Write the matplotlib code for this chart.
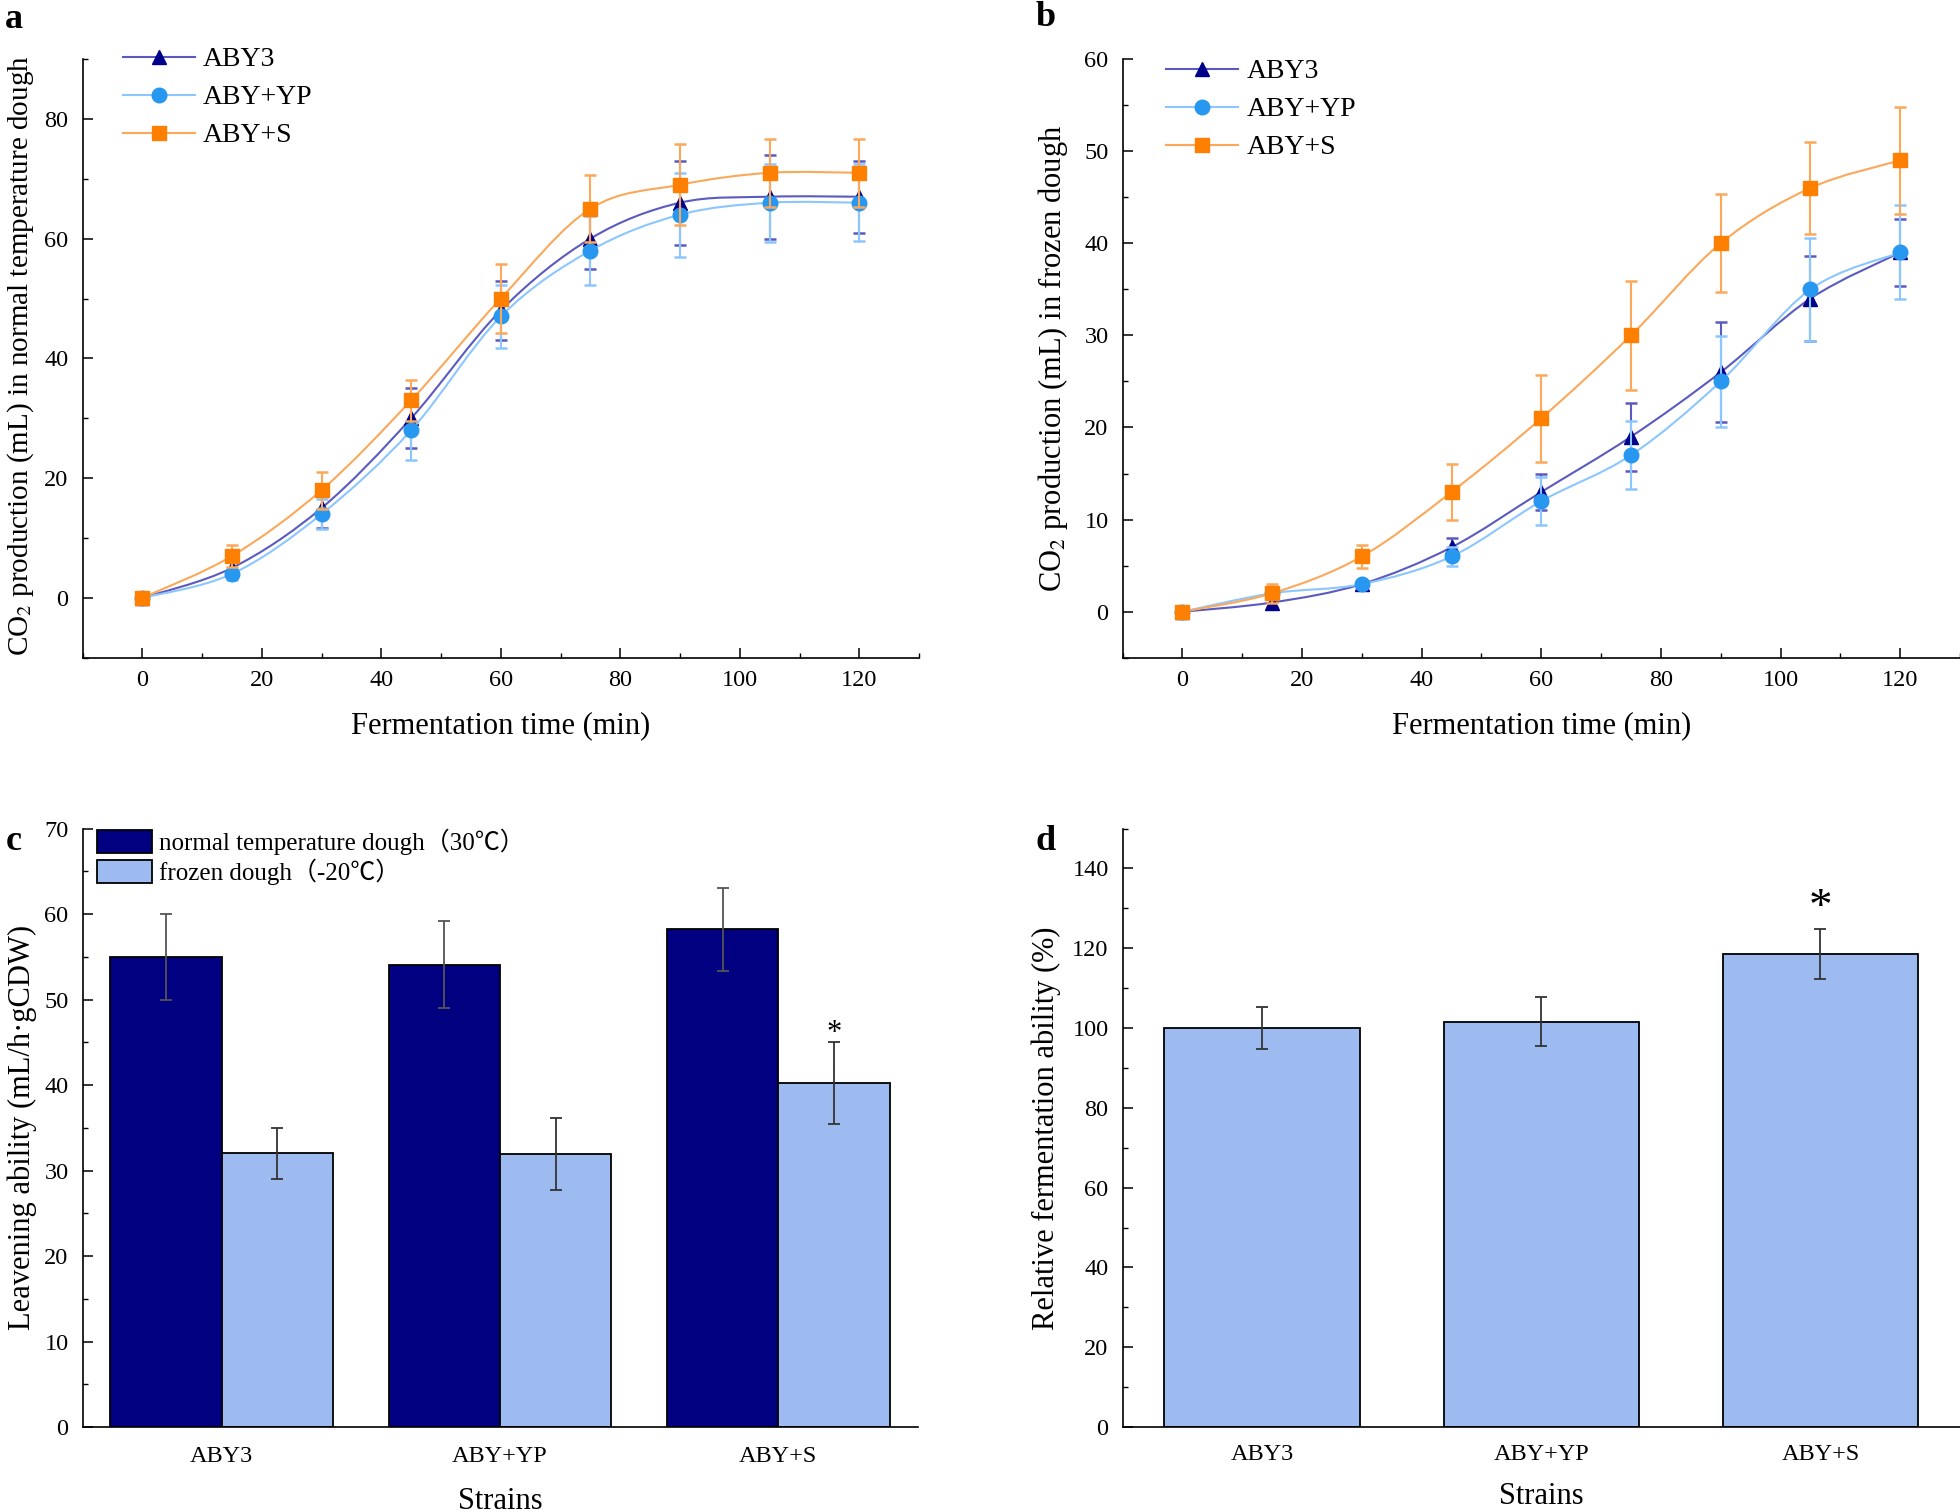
import numpy as np
import matplotlib
matplotlib.use('Agg')
import matplotlib.pyplot as plt
from matplotlib.path import Path
from matplotlib.patches import PathPatch
from matplotlib.lines import Line2D
from matplotlib.ticker import MultipleLocator
from matplotlib.font_manager import FontProperties

plt.rcParams['font.family'] = ['Liberation Serif', 'Noto Sans CJK SC']
plt.rcParams['mathtext.fontset'] = 'stix'

# ---------------- data ----------------
time_min = [0, 15, 30, 45, 60, 75, 90, 105, 120]
series_names = ['ABY3', 'ABY+YP', 'ABY+S']
strains = ['ABY3', 'ABY+YP', 'ABY+S']

a_aby3 = [0, 5, 15, 30, 48, 60, 66, 67, 67]
a_aby3_err = [0.5, 1, 3.4, 5, 5, 5, 7, 7, 6]
a_yp = [0, 4, 14, 28, 47, 58, 64, 66, 66]
a_yp_err = [0.5, 1, 2.5, 5, 5.2, 5.7, 7, 6.5, 6.4]
a_s = [0, 7, 18, 33, 50, 65, 69, 71, 71]
a_s_err = [0.5, 1.9, 3.1, 3.4, 5.8, 5.6, 6.8, 5.7, 5.7]

b_aby3 = [0, 1, 3, 7, 13, 19, 26, 34, 39]
b_aby3_err = [0.5, 0.5, 0.3, 1, 2, 3.7, 5.4, 4.6, 3.6]
b_yp = [0, 2, 3, 6, 12, 17, 25, 35, 39]
b_yp_err = [0.3, 0.5, 0.3, 1, 2.6, 3.7, 4.9, 5.6, 5.1]
b_s = [0, 2, 6, 13, 21, 30, 40, 46, 49]
b_s_err = [0.3, 1, 1.2, 3, 4.7, 5.9, 5.3, 5, 5.8]

c_labels = ['normal temperature dough（30℃）', 'frozen dough（-20℃）']
c_normal = [55, 54.1, 58.2]
c_normal_err = [5, 5.1, 4.8]
c_frozen = [32, 31.9, 40.2]
c_frozen_err = [3, 4.2, 4.8]
c_star_value = 46

d_relative = [100, 101.6, 118.6]
d_relative_err = [5.3, 6.1, 6.3]
d_star_value = 130

# ---------------- styles ----------------
marker_colors = ['#00008B', '#2897F0', '#FF7F00']
line_colors = ['#5A5AC0', '#8CC6FF', '#FBA85A']
markers = ['^', 'o', 's']
dark_bar = '#000080'
light_bar = '#9DBBF1'

TICK = 17.5
LABEL = 22
LEG = 20


def smooth_path(x, y):
    x = np.asarray(x, float)
    y = np.asarray(y, float)
    n = len(x)
    verts = [(x[0], y[0])]
    codes = [Path.MOVETO]
    for i in range(n - 1):
        xp, yp = (x[i - 1], y[i - 1]) if i > 0 else (x[i], y[i])
        xn, yn = (x[i + 2], y[i + 2]) if i + 2 < n else (x[i + 1], y[i + 1])
        c1 = (x[i] + (x[i + 1] - xp) / 6.0, y[i] + (y[i + 1] - yp) / 6.0)
        c2 = (x[i + 1] - (xn - x[i]) / 6.0, y[i + 1] - (yn - y[i]) / 6.0)
        verts += [c1, c2, (x[i + 1], y[i + 1])]
        codes += [Path.CURVE4] * 3
    return Path(verts, codes)


def style_axes(ax, xpad, ypad):
    for s in ['top', 'right']:
        ax.spines[s].set_visible(False)
    for s in ['left', 'bottom']:
        ax.spines[s].set_linewidth(1.2)
    ax.tick_params(which='major', direction='in', length=7, width=1.1, labelsize=TICK)
    ax.tick_params(which='minor', direction='in', length=3.5, width=1.0)
    ax.tick_params(axis='x', which='major', pad=xpad)
    ax.tick_params(axis='y', which='major', pad=ypad)


fig = plt.figure(figsize=(19.6, 15.12), dpi=100)

W, H = 1960.0, 1512.0


def add_axes_px(left, top, right, bottom):
    return fig.add_axes([left / W, 1 - bottom / H, (right - left) / W, (bottom - top) / H])


ax_a = add_axes_px(82.5, 59, 919, 657.8)
ax_b = add_axes_px(1122.5, 59, 1960, 657.8)
ax_c = add_axes_px(82.5, 828.6, 917.5, 1427)
ax_d = add_axes_px(1122.5, 828.6, 1960, 1427)


def line_panel(ax, data, errs, ylim, ymaj, ymin, ylabel, ylabel_size, leg_anchor):
    handles = []
    for k, (vals, err) in enumerate(zip(data, errs)):
        z = 2 + k * 3
        patch = PathPatch(smooth_path(time_min, vals), facecolor='none',
                          edgecolor=line_colors[k], lw=1.5, zorder=z,
                          transform=ax.transData)
        ax.add_patch(patch)
        ax.errorbar(time_min, vals, yerr=err, fmt='none', ecolor=line_colors[k],
                    elinewidth=1.5, capsize=4.5, capthick=1.8, zorder=z + 1)
        ax.plot(time_min, vals, linestyle='none', marker=markers[k], ms=10.5,
                color=marker_colors[k], mec=marker_colors[k], zorder=z + 2)
        handles.append(Line2D([], [], color=line_colors[k], lw=1.5, marker=markers[k],
                              ms=10.5, mfc=marker_colors[k], mec=marker_colors[k]))
    ax.set_xlim(-10, 130)
    ax.set_ylim(*ylim)
    ax.xaxis.set_major_locator(MultipleLocator(20))
    ax.xaxis.set_minor_locator(MultipleLocator(10))
    ax.yaxis.set_major_locator(MultipleLocator(ymaj))
    ax.yaxis.set_minor_locator(MultipleLocator(ymin))
    style_axes(ax, 9, 10)
    ax.set_xlabel('Fermentation time (min)', fontsize=LABEL)
    ax.set_ylabel(ylabel, fontsize=ylabel_size)
    ax.legend(handles, series_names, loc='upper left', bbox_to_anchor=leg_anchor,
              frameon=False, fontsize=LEG, handlelength=2.6, handletextpad=0.3,
              labelspacing=0.45, borderpad=0, borderaxespad=0)


line_panel(ax_a, [a_aby3, a_yp, a_s], [a_aby3_err, a_yp_err, a_s_err], (-10, 90), 20, 10,
           r'CO$_2$ production (mL) in normal temperature dough', 21, (0.048, 1.02))
ax_a.yaxis.set_label_coords(-0.056, 0.504)
ax_a.xaxis.set_label_coords(0.5, -0.09)

line_panel(ax_b, [b_aby3, b_yp, b_s], [b_aby3_err, b_yp_err, b_s_err], (-5, 60), 10, 5,
           r'CO$_2$ production (mL) in frozen dough', LABEL, (0.052, 1.0))
ax_b.yaxis.set_label_coords(-0.063, 0.5)
ax_b.xaxis.set_label_coords(0.5, -0.09)

# ---------------- panel c ----------------
xc = np.arange(len(strains))
bw = 0.4
ax_c.bar(xc - bw / 2, c_normal, width=bw, color=dark_bar, edgecolor='black', lw=1.3,
         label=c_labels[0], zorder=2)
ax_c.bar(xc + bw / 2, c_frozen, width=bw, color=light_bar, edgecolor='black', lw=1.3,
         label=c_labels[1], zorder=2)
ax_c.errorbar(xc - bw / 2, c_normal, yerr=c_normal_err, fmt='none', ecolor='#555555',
              elinewidth=1.3, capsize=4, capthick=1.3, zorder=3)
ax_c.errorbar(xc + bw / 2, c_frozen, yerr=c_frozen_err, fmt='none', ecolor='#333333',
              elinewidth=1.3, capsize=4, capthick=1.3, zorder=3)
ax_c.text(xc[2] + bw / 2, c_star_value, '*', fontsize=22, ha='center', va='center')
ax_c.set_xlim(-0.5, 2.5)
ax_c.set_ylim(0, 70)
ax_c.set_xticks(xc)
ax_c.set_xticklabels(strains)
ax_c.yaxis.set_major_locator(MultipleLocator(10))
ax_c.yaxis.set_minor_locator(MultipleLocator(5))
style_axes(ax_c, 14, 10)
ax_c.tick_params(axis='x', which='both', length=0)
ax_c.set_xlabel('Strains', fontsize=LABEL)
ax_c.set_ylabel('Leavening ability (mL/h·gCDW)', fontsize=LABEL)
ax_c.yaxis.set_label_coords(-0.0545, 0.5)
ax_c.xaxis.set_label_coords(0.5, -0.1)
ax_c.legend(loc='upper left', bbox_to_anchor=(0.017, 1.0), frameon=False,
            prop=FontProperties(family=['Liberation Serif', 'Noto Sans CJK SC'], size=18),
            handlelength=2.2, handleheight=1.0, handletextpad=0.3, labelspacing=0.15,
            borderpad=0, borderaxespad=0)

# ---------------- panel d ----------------
ax_d.bar(xc, d_relative, width=0.7, color=light_bar, edgecolor='black', lw=1.3, zorder=2)
ax_d.errorbar(xc, d_relative, yerr=d_relative_err, fmt='none', ecolor='#333333',
              elinewidth=1.3, capsize=4, capthick=1.3, zorder=3)
ax_d.text(xc[2], d_star_value, '*', fontsize=34, ha='center', va='center')
ax_d.set_xlim(-0.5, 2.5)
ax_d.set_ylim(0, 150)
ax_d.set_xticks(xc)
ax_d.set_xticklabels(strains)
ax_d.yaxis.set_major_locator(MultipleLocator(20))
ax_d.yaxis.set_minor_locator(MultipleLocator(10))
style_axes(ax_d, 12, 10)
ax_d.tick_params(axis='x', which='both', length=0)
ax_d.set_xlabel('Strains', fontsize=LABEL)
ax_d.set_ylabel('Relative fermentation ability (%)', fontsize=LABEL)
ax_d.yaxis.set_label_coords(-0.074, 0.5)
ax_d.xaxis.set_label_coords(0.5, -0.092)

# panel letters
for letter, (px, py) in zip('abcd', [(14, 19), (1046, 17), (14, 842), (1046, 842)]):
    fig.text(px / W, 1 - py / H, letter, fontsize=26, fontweight='bold',
             ha='center', va='center')

fig.savefig('out.png', dpi=100)
